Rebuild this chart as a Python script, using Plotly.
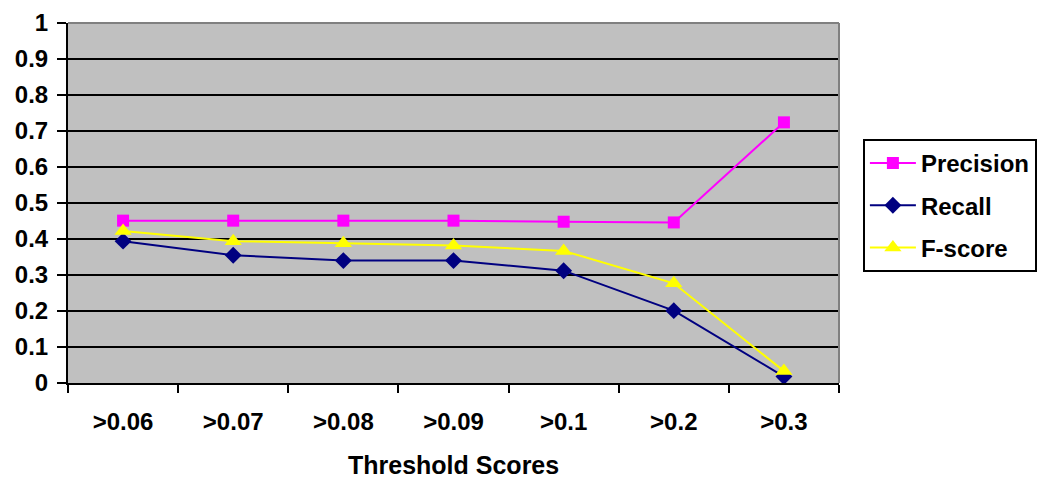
import plotly.graph_objects as go

thresholds = [">0.06", ">0.07", ">0.08", ">0.09", ">0.1", ">0.2", ">0.3"]
precision = [0.451, 0.451, 0.451, 0.451, 0.448, 0.446, 0.724]
recall = [0.394, 0.355, 0.340, 0.340, 0.312, 0.201, 0.018]
f_score = [0.422, 0.394, 0.388, 0.382, 0.367, 0.277, 0.033]

y_ticks = [0, 0.1, 0.2, 0.3, 0.4, 0.5, 0.6, 0.7, 0.8, 0.9, 1]
y_labels = ["0", "0.1", "0.2", "0.3", "0.4", "0.5", "0.6", "0.7", "0.8", "0.9", "1"]

FONT = "Liberation Sans, Arial, sans-serif"

fig = go.Figure()
fig.add_trace(go.Scatter(
    x=thresholds, y=precision, name="<b>Precision</b>", mode="lines+markers",
    line=dict(color="#FF00FF", width=2),
    marker=dict(symbol="square", size=12, color="#FF00FF"),
    legendgroup="p",
))
fig.add_trace(go.Scatter(
    x=thresholds, y=recall, name="<b>Recall</b>", mode="lines+markers",
    line=dict(color="#000080", width=2),
    marker=dict(symbol="diamond", size=13, color="#000080"),
    legendgroup="r",
))
fig.add_trace(go.Scatter(
    x=thresholds, y=f_score, name="<b>F-score</b>", mode="lines+markers",
    line=dict(color="#FFFF00", width=2),
    marker=dict(symbol="triangle-up", size=15, color="#FFFF00"),
    legendgroup="f",
))

# grey frame on the top and right edges of the plot area
fig.add_shape(type="line", xref="paper", yref="paper", x0=0, x1=1, y0=1, y1=1,
              line=dict(color="#808080", width=2))
fig.add_shape(type="line", xref="paper", yref="paper", x0=1, x1=1, y0=0, y1=1,
              line=dict(color="#808080", width=2))

# x-axis title
fig.add_annotation(
    text="<b>Threshold Scores</b>", xref="paper", yref="paper",
    x=0.5, y=-0.228, xanchor="center", yanchor="middle", showarrow=False,
    font=dict(family=FONT, size=25, color="black"),
)

fig.update_layout(
    width=1054, height=479,
    margin=dict(l=68, r=215, t=23, b=96),
    paper_bgcolor="white",
    plot_bgcolor="#C0C0C0",
    font=dict(family=FONT, size=20, color="black"),
    showlegend=True,
    legend=dict(
        x=1.031, y=0.678, xanchor="left", yanchor="top",
        bgcolor="white", bordercolor="black", borderwidth=2,
        font=dict(family=FONT, size=24, color="black"),
        traceorder="grouped", tracegroupgap=8, itemwidth=46,
    ),
    xaxis=dict(
        type="category", range=[-0.5, 6.5], automargin=False,
        tickson="boundaries", ticks="outside", ticklen=8, tickwidth=2, tickcolor="black",
        showgrid=False, showline=True, linecolor="black", linewidth=2,
        tickfont=dict(family=FONT, size=24, color="black"),
        ticklabelstandoff=16,
        tickprefix="<b>", ticksuffix="</b>",
    ),
    yaxis=dict(
        range=[0, 1], tickvals=y_ticks, ticktext=["<b>%s</b>" % t for t in y_labels],
        automargin=False,
        ticks="outside", ticklen=9, tickwidth=2, tickcolor="black",
        showgrid=True, gridcolor="black", gridwidth=2,
        showline=True, linecolor="black", linewidth=2, zeroline=False,
        tickfont=dict(family=FONT, size=24, color="black"),
        ticklabelstandoff=4,
    ),
)

fig.write_html("out.html")
